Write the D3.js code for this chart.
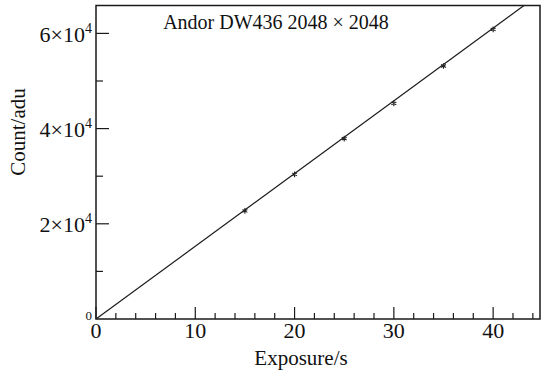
<!DOCTYPE html>
<html>
<head>
<meta charset="utf-8">
<script src="https://cdn.jsdelivr.net/npm/d3@7"></script>
<style>
  html, body { margin: 0; padding: 0; background: #fff; }
  svg { display: block; }
  text { font-family: "Liberation Serif", "DejaVu Serif", serif; fill: #111; }
</style>
</head>
<body>
<svg id="chart" width="548" height="371"></svg>
<script>
// Measured counts at each exposure time
const exposures = [15, 20, 25, 30, 35, 40];
const counts = [22700, 30400, 37900, 45300, 53150, 60850];
// Linear fit through the origin (counts per second)
const fitSlope = 1528;
// Axis ticks
const xMajorTicks = [0, 10, 20, 30, 40];
const xMinorTicks = d3.range(0, 45, 2);
const yMajorTicks = [20000, 40000, 60000];
const yMinorTicks = [10000, 20000, 30000, 40000, 50000, 60000];
const yTickMantissa = ["2", "4", "6"];
const titleText = "Andor DW436 2048 \u00d7 2048";
const xTitle = "Exposure/s";
const yTitle = "Count/adu";

const svg = d3.select("#chart");
const plotLeft = 96, plotRight = 540, plotTop = 5.5, plotBottom = 319;

const x = d3.scaleLinear().domain([0, 44.72]).range([plotLeft, plotRight]);
const y = d3.scaleLinear().domain([0, 65860]).range([plotBottom, plotTop]);

const ink = "#1a1a1a";

// Clip for fit line
svg.append("defs").append("clipPath").attr("id", "plotclip")
  .append("rect").attr("x", plotLeft).attr("y", plotTop)
  .attr("width", plotRight - plotLeft).attr("height", plotBottom - plotTop);

// Frame
svg.append("rect")
  .attr("x", plotLeft).attr("y", plotTop)
  .attr("width", plotRight - plotLeft).attr("height", plotBottom - plotTop)
  .attr("fill", "none").attr("stroke", ink).attr("stroke-width", 1.5);

// X ticks (pointing inward)
const xAxis = svg.append("g").attr("class", "x-axis");
xAxis.selectAll("line.minor").data(xMinorTicks.filter(d => !xMajorTicks.includes(d)))
  .join("line").attr("class", "minor")
  .attr("x1", d => x(d)).attr("x2", d => x(d))
  .attr("y1", plotBottom).attr("y2", plotBottom - 6)
  .attr("stroke", ink).attr("stroke-width", 1.2);
xAxis.selectAll("line.major").data(xMajorTicks)
  .join("line").attr("class", "major")
  .attr("x1", d => x(d)).attr("x2", d => x(d))
  .attr("y1", plotBottom).attr("y2", plotBottom - 12)
  .attr("stroke", ink).attr("stroke-width", 1.2);
xAxis.selectAll("text").data(xMajorTicks)
  .join("text")
  .attr("x", d => x(d)).attr("y", plotBottom + 19)
  .attr("text-anchor", "middle")
  .attr("font-size", 22)
  .text(d => d);

// Y ticks (pointing inward)
const yAxis = svg.append("g").attr("class", "y-axis");
yAxis.selectAll("line.minor").data(yMinorTicks.filter(d => !yMajorTicks.includes(d)))
  .join("line").attr("class", "minor")
  .attr("x1", plotLeft).attr("x2", plotLeft + 7)
  .attr("y1", d => y(d)).attr("y2", d => y(d))
  .attr("stroke", ink).attr("stroke-width", 1.2);
yAxis.selectAll("line.major").data(yMajorTicks)
  .join("line").attr("class", "major")
  .attr("x1", plotLeft).attr("x2", plotLeft + 13)
  .attr("y1", d => y(d)).attr("y2", d => y(d))
  .attr("stroke", ink).attr("stroke-width", 1.2);
const yLab = yAxis.selectAll("text.tick").data(yMajorTicks)
  .join("text").attr("class", "tick")
  .attr("x", plotLeft - 4).attr("y", d => y(d) + 8.5)
  .attr("text-anchor", "end")
  .attr("font-size", 22);
yLab.append("tspan").text((d, i) => yTickMantissa[i] + "\u00d710");
yLab.append("tspan").attr("dy", -9).attr("font-size", 14).text("4");
// zero label on the y axis
yAxis.append("text")
  .attr("x", plotLeft - 4).attr("y", y(0) + 1)
  .attr("text-anchor", "end")
  .attr("font-size", 13)
  .text("0");

// Fit line
svg.append("line")
  .attr("clip-path", "url(#plotclip)")
  .attr("x1", x(0)).attr("y1", y(0))
  .attr("x2", x(44.72)).attr("y2", y(fitSlope * 44.72))
  .attr("stroke", ink).attr("stroke-width", 1.2);

// Data markers
const sym = d3.symbol().type(d3.symbolAsterisk).size(22);
svg.append("g").selectAll("path").data(exposures)
  .join("path")
  .attr("transform", (d, i) => `translate(${x(d)},${y(counts[i])})`)
  .attr("d", sym)
  .attr("fill", "none").attr("stroke", "#222").attr("stroke-width", 1.1);

// Title inside plot
svg.append("text")
  .attr("x", 276).attr("y", 29)
  .attr("text-anchor", "middle")
  .attr("font-size", 20)
  .text(titleText);

// Axis titles
svg.append("text")
  .attr("x", 301).attr("y", 365)
  .attr("text-anchor", "middle")
  .attr("font-size", 21)
  .text(xTitle);
svg.append("text")
  .attr("transform", "translate(25,132) rotate(-90)")
  .attr("text-anchor", "middle")
  .attr("font-size", 21)
  .text(yTitle);
</script>
</body>
</html>
